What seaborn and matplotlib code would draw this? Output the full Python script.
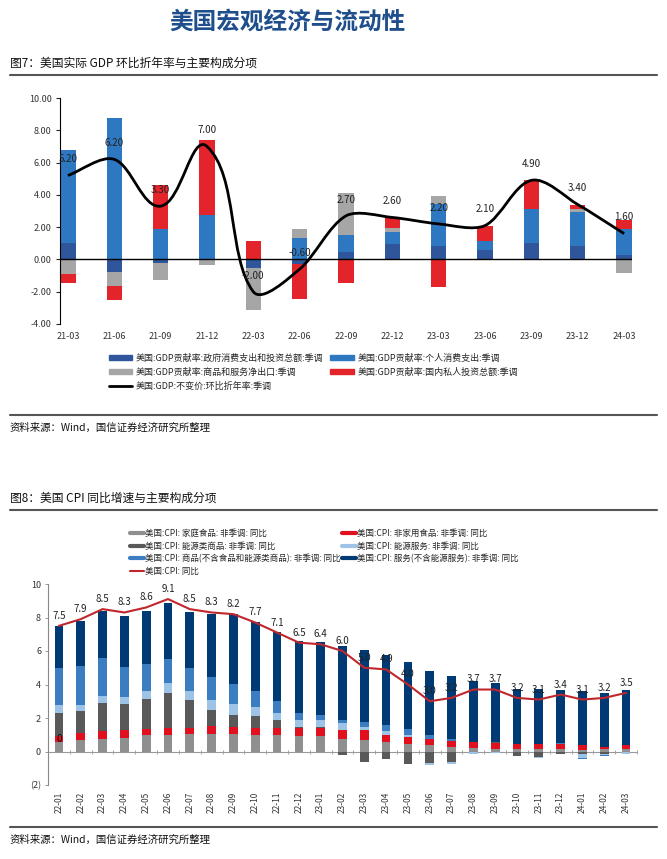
import numpy as np
import matplotlib
matplotlib.use('Agg')
import matplotlib.pyplot as plt
import seaborn as sns
from matplotlib.lines import Line2D
from matplotlib.patches import Patch, PathPatch
from matplotlib.path import Path

# ---- 图7 data: GDP contribution (pct pts) ----
gdp_quarters = ['21-03', '21-06', '21-09', '21-12', '22-03', '22-06', '22-09',
                '22-12', '23-03', '23-06', '23-09', '23-12', '24-03']
gdp_gov = [1.03, -0.78, -0.20, 0.00, -0.56, -0.30, 0.47, 0.93, 0.82, 0.58, 0.99, 0.82, 0.25]
gdp_pce = [5.73, 8.74, 1.90, 2.74, 0.00, 1.34, 1.07, 0.78, 2.64, 0.55, 2.14, 2.13, 1.61]
gdp_netx = [-0.93, -0.87, -1.08, -0.35, -2.57, 0.56, 2.57, 0.25, 0.50, 0.00, -0.04, 0.20, -0.82]
gdp_inv = [-0.55, -0.87, 2.74, 4.64, 1.17, -2.13, -1.44, 0.68, -1.69, 0.93, 1.77, 0.20, 0.60]
gdp_qoq = [5.2, 6.2, 3.3, 7.0, -2.0, -0.6, 2.7, 2.6, 2.2, 2.1, 4.9, 3.4, 1.6]

# ---- 图8 data: CPI yoy contribution ----
cpi_months = ['22-01', '22-02', '22-03', '22-04', '22-05', '22-06', '22-07', '22-08', '22-09',
              '22-10', '22-11', '22-12', '23-01', '23-02', '23-03', '23-04', '23-05', '23-06',
              '23-07', '23-08', '23-09', '23-10', '23-11', '23-12', '24-01', '24-02', '24-03']
cpi_food_home = [0.56, 0.66, 0.76, 0.82, 0.96, 0.96, 1.02, 1.06, 1.02, 1.00, 0.96, 0.92, 0.90, 0.76,
                 0.66, 0.56, 0.46, 0.36, 0.26, 0.20, 0.16, 0.16, 0.14, 0.14, 0.10, 0.12, 0.16]
cpi_food_away = [0.36, 0.44, 0.44, 0.44, 0.38, 0.44, 0.40, 0.44, 0.44, 0.42, 0.44, 0.50, 0.50, 0.54,
                 0.60, 0.44, 0.40, 0.40, 0.38, 0.36, 0.36, 0.30, 0.28, 0.30, 0.26, 0.16, 0.20]
cpi_energy_goods = [1.38, 1.32, 1.67, 1.57, 1.79, 2.11, 1.65, 0.96, 0.74, 0.70, 0.46, 0.05, 0.08, -0.20,
                    -0.64, -0.44, -0.74, -0.70, -0.64, -0.04, 0.02, -0.24, -0.30, -0.14, -0.15, -0.15, 0.00]
cpi_energy_svc = [0.47, 0.35, 0.44, 0.40, 0.50, 0.60, 0.56, 0.61, 0.61, 0.51, 0.44, 0.44, 0.40, 0.40,
                  0.20, 0.20, 0.14, -0.10, -0.10, -0.10, -0.08, 0.00, -0.06, 0.00, -0.25, -0.05, -0.14]
cpi_core_goods = [2.20, 2.34, 2.26, 1.84, 1.58, 1.40, 1.34, 1.36, 1.20, 1.00, 0.70, 0.36, 0.30, 0.20,
                  0.30, 0.36, 0.36, 0.24, 0.12, 0.02, 0.00, -0.02, -0.02, 0.04, -0.05, -0.06, 0.04]
cpi_services = [2.50, 2.70, 2.81, 3.01, 3.19, 3.33, 3.35, 3.75, 4.21, 4.09, 4.15, 4.31, 4.35, 4.42,
                4.30, 4.20, 4.00, 3.80, 3.76, 3.64, 3.54, 3.30, 3.30, 3.20, 3.26, 3.20, 3.30]
cpi_yoy = [7.5, 7.9, 8.5, 8.3, 8.6, 9.1, 8.5, 8.3, 8.2, 7.7, 7.1, 6.5, 6.4, 6.0,
           5.0, 4.9, 4.0, 3.0, 3.2, 3.7, 3.7, 3.2, 3.1, 3.4, 3.1, 3.2, 3.5]

sns.set_style('white')
plt.rcParams['font.family'] = ['Noto Sans CJK SC', 'DejaVu Sans']
plt.rcParams['axes.unicode_minus'] = False

W, H = 667, 859
def fx(px): return px / W
def fy(py): return 1 - py / H


def stacked(ax, cats, layers, colors, width):
    # positive and negative parts stacked separately, drawn back to front
    vals = np.array(layers, dtype=float)
    pos = np.cumsum(np.clip(vals, 0, None), axis=0)
    neg = np.cumsum(np.clip(vals, None, 0), axis=0)
    for k in range(len(layers) - 1, -1, -1):
        for cum in (pos[k], neg[k]):
            sns.barplot(x=cats, y=cum, color=colors[k], width=width, saturation=1,
                        errorbar=None, linewidth=0, ax=ax)


def smooth_path(xs, ys, sx, sy, s=0.28):
    # excel-like smoothed line: bezier with chord-length scaled tangents (in pixel space)
    pts = np.column_stack([np.asarray(xs) * sx, np.asarray(ys) * sy]).astype(float)
    n = len(pts)
    tang = np.zeros_like(pts)
    for i in range(n):
        d = pts[min(i + 1, n - 1)] - pts[max(i - 1, 0)]
        tang[i] = d / np.hypot(*d)
    verts = [pts[0]]
    codes = [Path.MOVETO]
    for i in range(n - 1):
        chord = np.hypot(*(pts[i + 1] - pts[i]))
        verts += [pts[i] + tang[i] * chord * s, pts[i + 1] - tang[i + 1] * chord * s, pts[i + 1]]
        codes += [Path.CURVE4] * 3
    verts = np.array(verts) / [sx, sy]
    return Path(verts, codes)


def hline(y, lw=1.5, color='#555555'):
    fig.add_artist(Line2D([fx(10), fx(657)], [fy(y), fy(y)], transform=fig.transFigure,
                          color=color, lw=lw))


fig = plt.figure(figsize=(6.67, 8.59), dpi=100)

fig.text(fx(287), fy(22), '美国宏观经济与流动性', ha='center', va='center',
         fontsize=17, fontweight='bold', color='#1f4e8c')

# ================= 图7 =================
fig.text(fx(10), fy(63), '图7：美国实际 GDP 环比折年率与主要构成分项', va='center',
         fontsize=8.5, color='#111111')
hline(75)

gdp_colors = ['#2f559a', '#2e78c2', '#a6a6a6', '#e3242b']
ax1 = fig.add_axes([fx(60), fy(324), fx(632) - fx(60), fy(98) - fy(324)])
stacked(ax1, gdp_quarters, [gdp_gov, gdp_pce, gdp_netx, gdp_inv], gdp_colors, 0.33)
ax1.axhline(0, color='black', lw=1, zorder=4)
xs = np.arange(len(gdp_quarters))
ax1.add_patch(PathPatch(smooth_path(xs, gdp_qoq, 46.35, 16.2), facecolor='none',
                        edgecolor='black', lw=2, zorder=5))
for i, v in enumerate(gdp_qoq):
    ax1.text(i, v + 1.0, f'{v:.2f}', ha='center', va='center', fontsize=7,
             color='#222222', zorder=6)
ax1.set_xlim(-0.17, len(gdp_quarters) - 1 + 0.17)
ax1.set_ylim(-4, 10)
ax1.set_yticks(np.arange(-4, 11, 2))
ax1.set_yticklabels([f'{t:.2f}' for t in np.arange(-4, 11, 2)])
ax1.set_xticks(xs)
ax1.set_xticklabels(gdp_quarters)
ax1.set_xlabel('')
ax1.set_ylabel('')
ax1.tick_params(axis='x', length=0, pad=6, labelsize=6.5, labelcolor='#333333')
ax1.tick_params(axis='y', length=3, width=0.8, direction='out', left=True, labelsize=6.5,
                labelcolor='#333333', pad=3)
for s in ['top', 'right', 'bottom']:
    ax1.spines[s].set_visible(False)
ax1.spines['left'].set_color('black')
ax1.spines['left'].set_linewidth(0.8)

gdp_handles = [Patch(color=gdp_colors[0]), Patch(color=gdp_colors[2]),
               Line2D([], [], color='black', lw=2),
               Patch(color=gdp_colors[1]), Patch(color=gdp_colors[3])]
gdp_labels = ['美国:GDP贡献率:政府消费支出和投资总额:季调', '美国:GDP贡献率:商品和服务净出口:季调',
              '美国:GDP:不变价:环比折年率:季调',
              '美国:GDP贡献率:个人消费支出:季调', '美国:GDP贡献率:国内私人投资总额:季调']
fig.legend(gdp_handles, gdp_labels, ncol=2, loc='upper left', bbox_to_anchor=(fx(104), fy(349)),
           frameon=False, fontsize=6.5, handlelength=2.6, handleheight=0.55,
           columnspacing=0.8, labelspacing=0.55, handletextpad=0.4, borderpad=0)

hline(415)
fig.text(fx(10), fy(428), '资料来源：Wind，国信证券经济研究所整理', va='center', fontsize=7.5,
         color='#111111')

# ================= 图8 =================
fig.text(fx(10), fy(498), '图8：美国 CPI 同比增速与主要构成分项', va='center',
         fontsize=8.5, color='#111111')
hline(510)

cpi_colors = ['#8f8f8f', '#e0101e', '#595959', '#9dc3e6', '#3a7dc0', '#003a75']
ax2 = fig.add_axes([fx(48), fy(785), fx(637) - fx(48), fy(584) - fy(785)])
stacked(ax2, cpi_months,
        [cpi_food_home, cpi_food_away, cpi_energy_goods, cpi_energy_svc, cpi_core_goods, cpi_services],
        cpi_colors, 0.4)
mx = np.arange(len(cpi_months))
sns.lineplot(x=mx, y=cpi_yoy, color='#c0272d', lw=1.5, ax=ax2, zorder=5)
for i, v in enumerate(cpi_yoy):
    ax2.text(i, v + 0.6, f'{v:.1f}', ha='center', va='center', fontsize=7,
             color='#222222', zorder=6)
ax2.text(0, cpi_food_home[0] + cpi_food_away[0] / 2, '0', ha='center', va='center',
         fontsize=7, color='#111111', zorder=6)

ax2.set_xlim(-0.5, len(cpi_months) - 0.5)
ax2.set_ylim(-2, 10)
ax2.set_yticks(np.arange(-2, 11, 2))
ax2.set_yticklabels(['(2)' if t < 0 else str(t) for t in np.arange(-2, 11, 2)])
ax2.get_yticklabels()[0].set_color('#d04a4a')
ax2.set_xticks(mx)
ax2.set_xticklabels(cpi_months, rotation=90)
ax2.set_xlabel('')
ax2.set_ylabel('')
ax2.tick_params(axis='x', length=0, pad=5, labelsize=6, labelcolor='#333333')
ax2.tick_params(axis='y', length=2, width=0.6, direction='out', left=True, labelsize=6.5,
                labelcolor='#333333', pad=3, color='#888888')
for s in ['top', 'right', 'bottom']:
    ax2.spines[s].set_visible(False)
ax2.spines['left'].set_color('#888888')
ax2.spines['left'].set_linewidth(0.8)

zero_ax = ax2.secondary_xaxis(0, transform=ax2.transData)
zero_ax.set_xticks(np.arange(-0.5, len(cpi_months), 1))
zero_ax.tick_params(length=3, width=0.6, direction='inout', color='#999999', labelbottom=False)
zero_ax.spines['bottom'].set_color('#999999')
zero_ax.spines['bottom'].set_linewidth(0.8)

cpi_handles = [Line2D([], [], color=cpi_colors[0], lw=3), Line2D([], [], color=cpi_colors[2], lw=3),
               Line2D([], [], color=cpi_colors[4], lw=3), Line2D([], [], color='#c0272d', lw=1.5),
               Line2D([], [], color=cpi_colors[1], lw=3), Line2D([], [], color=cpi_colors[3], lw=3),
               Line2D([], [], color=cpi_colors[5], lw=3)]
cpi_labels = ['美国:CPI: 家庭食品: 非季调: 同比', '美国:CPI: 能源类商品: 非季调: 同比',
              '美国:CPI: 商品(不含食品和能源类商品): 非季调: 同比', '美国:CPI: 同比',
              '美国:CPI: 非家用食品: 非季调: 同比', '美国:CPI: 能源服务: 非季调: 同比',
              '美国:CPI: 服务(不含能源服务): 非季调: 同比']
fig.legend(cpi_handles, cpi_labels, ncol=2, loc='upper left', bbox_to_anchor=(fx(126), fy(525)),
           frameon=False, fontsize=6.1, handlelength=1.6, columnspacing=0.1,
           labelspacing=0.4, handletextpad=0.2, borderpad=0)

hline(827)
fig.text(fx(10), fy(840), '资料来源：Wind，国信证券经济研究所整理', va='center', fontsize=7.5,
         color='#111111')

fig.savefig('out.png', dpi=100)
